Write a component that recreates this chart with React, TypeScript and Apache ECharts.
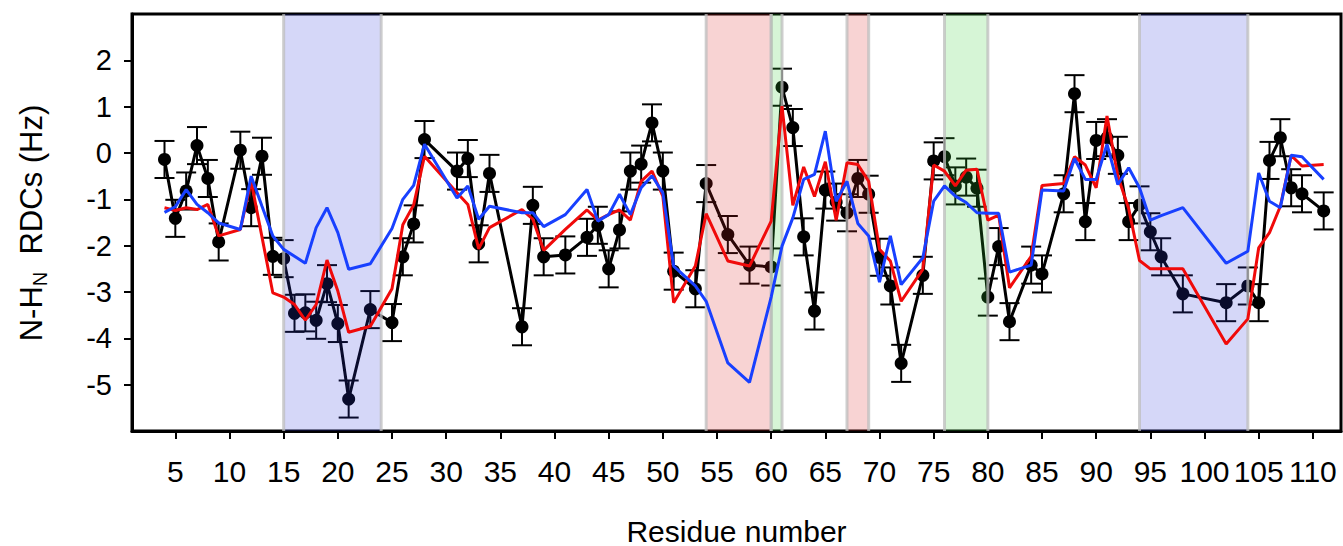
import React, { useEffect, useRef } from "react";
import * as echarts from "echarts";

const residues = [4,5,6,7,8,9,11,12,13,14,15,16,17,18,19,20,21,23,25,26,27,28,31,32,33,34,37,38,39,41,43,44,45,46,47,48,49,50,51,53,54,56,58,60,61,62,63,64,65,66,67,68,69,70,71,72,74,75,76,77,78,79,80,81,82,84,85,87,88,89,90,91,92,93,94,95,96,98,102,104,105,106,107,108,109,111];

const experimental = [-0.14,-1.41,-0.82,0.16,-0.55,-1.92,0.06,-1.18,-0.07,-2.23,-2.28,-3.46,-3.45,-3.61,-2.82,-3.68,-5.31,-3.38,-3.66,-2.24,-1.53,0.29,-0.39,-0.12,-1.96,-0.44,-3.75,-1.13,-2.24,-2.2,-1.82,-1.56,-2.5,-1.66,-0.39,-0.24,0.65,-0.39,-2.55,-2.93,-0.66,-1.76,-2.42,-2.46,1.42,0.55,-1.81,-3.41,-0.8,-1.06,-1.29,-0.55,-0.89,-2.25,-2.87,-4.54,-2.64,-0.17,-0.08,-0.71,-0.52,-0.76,-3.11,-2.02,-3.64,-2.42,-2.61,-0.88,1.28,-1.48,0.27,0.33,-0.05,-1.48,-1.12,-1.7,-2.24,-3.04,-3.23,-2.87,-3.23,-0.16,0.33,-0.75,-0.88,-1.25];

const errors = [0.4,0.4,0.4,0.4,0.4,0.4,0.4,0.4,0.4,0.4,0.4,0.4,0.4,0.4,0.4,0.4,0.4,0.4,0.4,0.4,0.4,0.4,0.4,0.4,0.4,0.4,0.4,0.4,0.4,0.4,0.4,0.4,0.4,0.4,0.4,0.4,0.4,0.4,0.4,0.4,0.4,0.4,0.4,0.4,0.4,0.4,0.4,0.4,0.4,0.4,0.4,0.4,0.4,0.4,0.4,0.4,0.4,0.4,0.4,0.4,0.4,0.4,0.4,0.4,0.4,0.4,0.4,0.4,0.4,0.4,0.4,0.4,0.4,0.4,0.4,0.4,0.4,0.4,0.4,0.4,0.4,0.4,0.4,0.4,0.4,0.4];

const predictedRed = [-1.18,-1.24,-1.18,-1.22,-1.11,-1.79,-1.65,-0.61,null,-3.02,-3.11,-3.27,-3.61,-3.27,-2.31,-2.98,-3.87,-3.74,-2.93,-1.55,-1.12,-0.07,-0.86,-1.11,-2.07,-1.61,-1.22,-1.43,-2.1,-1.65,-1.23,-1.45,-1.33,-1.23,-1.45,-0.61,-0.39,-0.93,-3.23,-2.44,-1.31,-2.33,-2.44,-1.47,1.01,-1.13,-0.3,-0.94,-0.19,-1.45,-0.21,-0.25,-0.61,-2.08,-2.33,-3.2,-2.51,-0.26,-0.39,-0.71,-0.37,-0.35,-1.45,-1.34,-2.91,-2.23,-0.7,-0.66,-0.08,-0.26,-0.75,0.8,-0.5,-1.2,-2.32,-2.5,-2.5,-2.5,-4.12,-3.58,-2.05,-1.72,-1.15,-0.05,-0.28,-0.25];

const predictedBlue = [-1.28,-1.16,-0.79,-1.11,-1.29,-1.51,-1.65,-0.5,-1.15,-1.79,-2.08,-2.23,-2.38,-1.61,-1.18,-1.72,-2.51,-2.39,-1.63,-1.0,-0.7,0.19,-0.97,-0.71,-1.43,-1.15,-1.29,-1.29,-1.59,-1.33,-0.79,-1.47,-1.33,-0.89,-1.33,-0.75,-0.49,-0.86,-2.44,-2.87,-3.2,-4.53,-4.95,-3.11,-2.01,-1.4,-0.57,-0.46,0.47,-1.04,-0.61,-1.52,-1.79,-2.79,-1.79,-2.84,-2.26,-1.04,-0.71,-0.93,-1.07,-1.29,-1.3,-1.3,-2.57,-2.42,-0.8,-0.82,-0.12,-0.57,-0.57,0.19,-0.68,-0.32,-0.75,-1.45,-1.35,-1.18,-2.38,-2.12,-0.43,-1.04,-1.18,-0.05,-0.08,-0.57];

const bandStarts = [15, 54, 60, 67, 76, 94];
const bandEnds = [24, 60, 61, 69, 80, 104];
const bandKinds = ["blue", "red", "green", "red", "green", "blue"];

const xTicks = [5,10,15,20,25,30,35,40,45,50,55,60,65,70,75,80,85,90,95,100,105,110];
const yTicks = [-5,-4,-3,-2,-1,0,1,2];

const X_MIN = 1;
const X_MAX = 112.6;
const Y_MIN = -6;
const Y_MAX = 3;

const FONT = '"Liberation Sans", Arial, Helvetica, sans-serif';

const bandFill: Record<string, string> = {
  blue: "rgba(45,55,220,0.2)",
  red: "rgba(220,35,35,0.2)",
  green: "rgba(50,205,50,0.2)",
};

export default function App() {
  const ref = useRef<HTMLDivElement>(null);
  useEffect(() => {
    if (!ref.current) return;
    const chart = echarts.init(ref.current, null, { renderer: "svg" });

    const expData = residues.map((r, i) => [r, experimental[i]]);
    const errData = residues.map((r, i) => [r, experimental[i] - errors[i], experimental[i] + errors[i]]);
    const redData = residues.map((r, i) => [r, predictedRed[i]]);
    const blueData = residues.map((r, i) => [r, predictedBlue[i]]);
    const bandData = bandStarts.map((s, i) => [s, bandEnds[i], i]);

    const option: any = {
      animation: false,
      backgroundColor: "#fff",
      grid: {
        left: 132,
        right: 2,
        top: 14,
        bottom: 115,
        outerBoundsMode: "none",
        containLabel: false,
        show: true,
        borderColor: "#000",
        borderWidth: 3,
        backgroundColor: "transparent",
      },
      xAxis: {
        type: "value",
        min: X_MIN,
        max: X_MAX,
        splitLine: { show: false },
        axisLine: { show: true, onZero: false, lineStyle: { color: "#000", width: 3 } },
        axisTick: { show: true, customValues: xTicks, length: 8, lineStyle: { color: "#000", width: 2 } },
        axisLabel: {
          customValues: xTicks,
          color: "#000",
          fontSize: 30,
          fontFamily: FONT,
          margin: 25,
        },
        name: "Residue number",
        nameLocation: "middle",
        nameGap: 85,
        nameTextStyle: { color: "#000", fontSize: 30, fontFamily: FONT },
      },
      yAxis: {
        type: "value",
        min: Y_MIN,
        max: Y_MAX,
        interval: 1,
        splitLine: { show: false },
        axisLine: { show: true, onZero: false, lineStyle: { color: "#000", width: 3 } },
        axisTick: { show: true, customValues: yTicks, length: 8, lineStyle: { color: "#000", width: 2 } },
        axisLabel: {
          customValues: yTicks,
          color: "#000",
          fontSize: 29,
          fontFamily: FONT,
          margin: 20,
        },
      },
      graphic: [
        {
          type: "text",
          x: 31,
          y: 223,
          rotation: Math.PI / 2,
          style: {
            text: "{n|N-H}{s|N}{n|  RDCs (Hz)}",
            align: "center",
            verticalAlign: "middle",
            fill: "#000",
            font: `31px ${FONT}`,
            rich: {
              n: { fontSize: 31, fontFamily: FONT, lineHeight: 38, fill: "#000", verticalAlign: "middle" },
              s: { fontSize: 20, fontFamily: FONT, lineHeight: 20, fill: "#000", verticalAlign: "bottom" },
            },
          },
        },
      ],
      series: [
        {
          name: "experimental",
          type: "line",
          data: expData,
          z: 2,
          symbol: "circle",
          symbolSize: 13,
          showSymbol: true,
          lineStyle: { color: "#000", width: 3 },
          itemStyle: { color: "#000" },
        },
        {
          name: "errors",
          type: "custom",
          z: 2,
          data: errData,
          renderItem: (params: any, api: any) => {
            const x = api.value(0);
            const lo = api.coord([x, api.value(1)]);
            const hi = api.coord([x, api.value(2)]);
            const hw = 10;
            const st = { stroke: "#000", lineWidth: 2 };
            return {
              type: "group",
              children: [
                { type: "line", shape: { x1: lo[0], y1: lo[1], x2: hi[0], y2: hi[1] }, style: st },
                { type: "line", shape: { x1: lo[0] - hw, y1: lo[1], x2: lo[0] + hw, y2: lo[1] }, style: st },
                { type: "line", shape: { x1: hi[0] - hw, y1: hi[1], x2: hi[0] + hw, y2: hi[1] }, style: st },
              ],
            };
          },
        },
        {
          name: "bands",
          type: "custom",
          z: 3,
          data: bandData,
          renderItem: (params: any, api: any) => {
            const idx = api.value(2);
            const kind = bandKinds[idx];
            const a = api.coord([api.value(0), Y_MAX]);
            const b = api.coord([api.value(1), Y_MIN]);
            const edge = { stroke: "rgba(190,190,190,0.75)", lineWidth: 3 };
            return {
              type: "group",
              children: [
                { type: "rect", shape: { x: a[0], y: a[1], width: b[0] - a[0], height: b[1] - a[1] }, style: { fill: bandFill[kind] } },
                { type: "line", shape: { x1: a[0], y1: a[1], x2: a[0], y2: b[1] }, style: edge },
                { type: "line", shape: { x1: b[0], y1: a[1], x2: b[0], y2: b[1] }, style: edge },
              ],
            };
          },
        },
        {
          name: "red",
          type: "line",
          data: redData,
          z: 4,
          connectNulls: true,
          showSymbol: false,
          symbol: "none",
          lineStyle: { color: "#f00a0a", width: 3 },
        },
        {
          name: "blue",
          type: "line",
          data: blueData,
          z: 5,
          connectNulls: true,
          showSymbol: false,
          symbol: "none",
          lineStyle: { color: "#1840ff", width: 3 },
        },
      ],
    };
    chart.setOption(option);
    return () => chart.dispose();
  }, []);
  return <div ref={ref} style={{ position: "fixed", left: 0, top: 0, width: 1343, height: 546 }} />;
}
